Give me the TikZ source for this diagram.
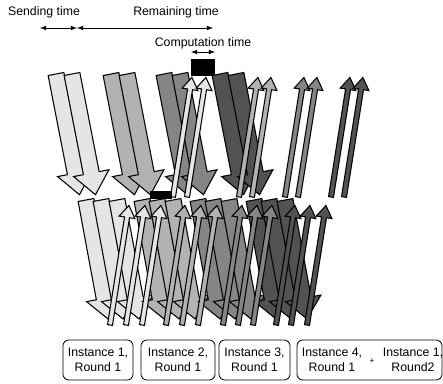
\documentclass[tikz,border=0pt]{standalone}
\usepackage{fontspec}
\setmainfont{Liberation Sans}
\usetikzlibrary{positioning}
\definecolor{shadeA}{gray}{0.9}
\definecolor{shadeB}{gray}{0.7}
\definecolor{shadeC}{gray}{0.52}
\definecolor{shadeD}{gray}{0.32}

\begin{document}
\begin{tikzpicture}[x=0.03cm,y=-0.03cm,>=latex,
  wide/.style={draw,line width=0.9pt,line join=miter},
  slim/.style={draw,line width=0.9pt,line join=miter},
  lbl/.style={font=\fontsize{10.5}{12}\selectfont,inner sep=0pt},
  roundbox/.style={draw,rounded corners=5pt,line width=0.7pt,minimum height=1.2cm,inner sep=0pt,align=center,font=\fontsize{10.5}{12.8}\selectfont},
  boxtext/.style={inner sep=0pt,align=center,font=\fontsize{10.5}{12.8}\selectfont}]
\useasboundingbox (0,0) rectangle (443,383);
\node[lbl] (sendlbl) at (44,12) {Sending time};
\node[lbl] (remlbl) at (176,12) {Remaining time};
\node[lbl] (complbl) at (203,43) {Computation time};
\coordinate (sendL) at (40,28);
\coordinate (sendR) at (77,28);
\coordinate (remR) at (213,28);
\coordinate (compL) at (191,52);
\coordinate (compR) at (215,52);
\draw[<->,line width=0.8pt] (sendL) -- (sendR);
\draw[<->,line width=0.8pt] (sendR) -- (remR);
\draw[<->,line width=0.8pt] (compL) -- (compR);
\fill (191,59) rectangle (215,76);
\foreach \x/\c in {56/shadeA,72/shadeA,111/shadeB,127/shadeB,164/shadeC,180/shadeC,220/shadeD,236/shadeD}
    \draw[wide,fill=\c,shift={(\x,74)},rotate=11] (-8,0) -- (8,0) -- (8,101) -- (18,101) -- (0,123) -- (-18,101) -- (-8,101) -- cycle;
\foreach \x/\c in {173/shadeA,187/shadeA,239/shadeB,252/shadeB,285/shadeC,298/shadeC,331/shadeD,344/shadeD}
    \draw[slim,fill=\c,shift={(\x,197)},rotate=-9] (-2.5,0) -- (2.5,0) -- (2.5,-109) -- (8,-109) -- (0,-121) -- (-8,-109) -- (-2.5,-109) -- cycle;
\fill (150,191) rectangle (172,199);
\foreach \x/\c in {86/shadeA,101/shadeA,117/shadeA,142/shadeB,157/shadeB,173/shadeB,198/shadeC,213/shadeC,229/shadeC,254/shadeD,269/shadeD,285/shadeD}
    \draw[wide,fill=\c,shift={(\x,200)},rotate=10.5] (-8,0) -- (8,0) -- (8,100) -- (18,100) -- (0,121) -- (-18,100) -- (-8,100) -- cycle;
\foreach \x/\c in {110/shadeA,126/shadeA,142/shadeA,166/shadeB,182/shadeB,198/shadeB,223/shadeC,238/shadeC,253/shadeC,276/shadeD,291/shadeD,307/shadeD}
    \draw[slim,fill=\c,shift={(\x,325)},rotate=-9] (-2.5,0) -- (2.5,0) -- (2.5,-109) -- (8,-109) -- (0,-121) -- (-8,-109) -- (-2.5,-109) -- cycle;
\node[roundbox,minimum width=2.1cm] (inst1) at (98,360) {Instance 1,\\Round 1};
\node[roundbox,minimum width=2.22cm] (inst2) at (178,360) {Instance 2,\\Round 1};
\node[roundbox,minimum width=2.13cm] (inst3) at (254.5,360) {Instance 3,\\Round 1};
\node[roundbox,minimum width=4.35cm] (inst4) at (369.5,360) {};
\node[boxtext] (inst4a) at (332,360) {Instance 4,\\Round 1};
\node[boxtext,font=\scriptsize] (plus) at (372,361) {+};
\node[boxtext] (inst4b) at (413,360) {Instance 1,\\Round2};
\end{tikzpicture}
\end{document}
